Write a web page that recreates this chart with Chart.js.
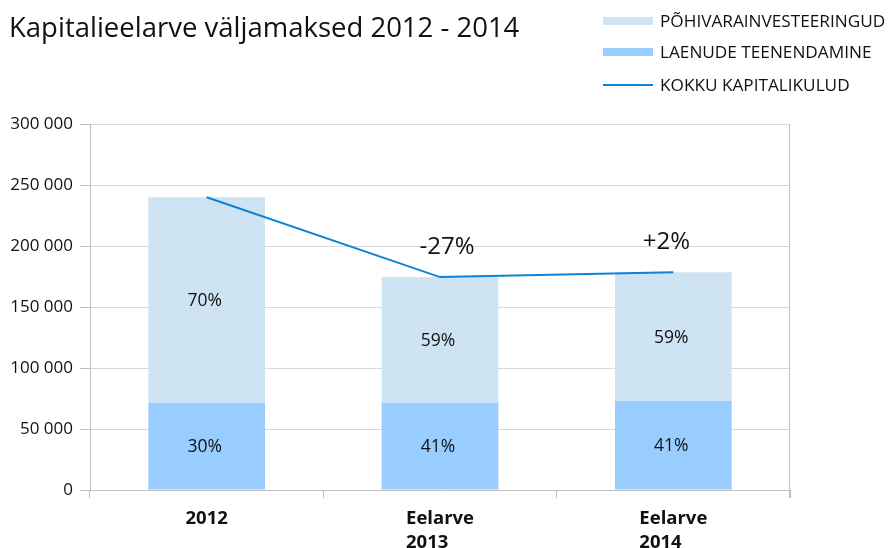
<!DOCTYPE html>
<html>
<head>
<meta charset="utf-8">
<script src="https://cdn.jsdelivr.net/npm/chart.js@4/dist/chart.umd.min.js"></script>
<style>
  html, body { margin: 0; padding: 0; background: #fff; }
  #wrap { width: 891px; height: 548px; position: relative; }
</style>
</head>
<body>
<div id="wrap"><canvas id="chart"></canvas></div>
<script>
// Data
const categories = [["2012"], ["Eelarve", "2013"], ["Eelarve", "2014"]];
const laenudeTeenendamine = [71500, 71500, 73000];
const pohivaraInvesteeringud = [168500, 103000, 105500];
const kokkuKapitalikulud = [240000, 174500, 178500];
const laenudeShare = ["30%", "41%", "41%"];
const pohivaraShare = ["70%", "59%", "59%"];
const changeLabels = [null, "-27%", "+2%"];

const FONT = "'Open Sans', 'Noto Sans', sans-serif";
const AXIS_GRAY = "#bfbfbf";
const GRID_GRAY = "#d9d9d9";

// Custom drawing: title, legend, x labels, bar percentages, change labels
const decorations = {
  id: "decorations",
  afterDraw(chart) {
    const ctx = chart.ctx;
    const area = chart.chartArea;
    const xScale = chart.scales.x;
    ctx.save();

    // right border of the plot
    ctx.strokeStyle = AXIS_GRAY;
    ctx.lineWidth = 1;
    ctx.beginPath();
    ctx.moveTo(Math.round(area.right) - 0.5, area.top);
    ctx.lineTo(Math.round(area.right) - 0.5, area.bottom + 8);
    ctx.stroke();

    // title
    ctx.fillStyle = "#111";
    ctx.font = "27.5px " + FONT;
    ctx.textAlign = "left";
    ctx.textBaseline = "middle";
    ctx.fillText("Kapitalieelarve väljamaksed 2012 - 2014", 9, 29);

    // legend
    const legendRows = [
      { ds: 1, y: 21, type: "box" },
      { ds: 0, y: 52, type: "box" },
      { ds: 2, y: 85, type: "line" },
    ];
    ctx.font = "17.2px " + FONT;
    legendRows.forEach((row) => {
      const ds = chart.data.datasets[row.ds];
      if (row.type === "box") {
        ctx.fillStyle = ds.backgroundColor;
        ctx.fillRect(603, row.y - 4, 50, 8);
      } else {
        ctx.strokeStyle = ds.borderColor;
        ctx.lineWidth = 2;
        ctx.beginPath();
        ctx.moveTo(603, row.y);
        ctx.lineTo(653, row.y);
        ctx.stroke();
      }
      ctx.fillStyle = "#111";
      ctx.fillText(ds.label, 660, row.y + 1);
    });

    // x axis labels (left aligned block, centered under category)
    ctx.font = "bold 18.5px " + FONT;
    ctx.textBaseline = "middle";
    categories.forEach((lines, i) => {
      const cx = xScale.getPixelForValue(i);
      const w = Math.max(...lines.map((l) => ctx.measureText(l).width));
      lines.forEach((l, k) => {
        ctx.fillText(l, cx - w / 2, 519 + k * 24);
      });
    });

    // percentages inside bar segments
    ctx.font = "17.5px " + FONT;
    ctx.textAlign = "center";
    [[0, laenudeShare], [1, pohivaraShare]].forEach(([dsIndex, texts]) => {
      chart.getDatasetMeta(dsIndex).data.forEach((bar, i) => {
        ctx.fillText(texts[i], bar.x - 2, (bar.y + bar.base) / 2 + 1);
      });
    });

    // change labels above the total line
    ctx.font = "24px " + FONT;
    chart.getDatasetMeta(2).data.forEach((pt, i) => {
      if (changeLabels[i]) {
        const dx = i === 1 ? 7 : -7;
        ctx.fillText(changeLabels[i], pt.x + dx, pt.y - 30);
      }
    });

    ctx.restore();
  },
};

new Chart(document.getElementById("chart"), {
  data: {
    labels: categories,
    datasets: [
      {
        type: "bar",
        label: "LAENUDE TEENENDAMINE",
        data: laenudeTeenendamine,
        backgroundColor: "#99ccff",
        stack: "bars",
        order: 2,
      },
      {
        type: "bar",
        label: "PÕHIVARAINVESTEERINGUD",
        data: pohivaraInvesteeringud,
        backgroundColor: "#cfe4f3",
        stack: "bars",
        order: 2,
      },
      {
        type: "line",
        label: "KOKKU KAPITALIKULUD",
        data: kokkuKapitalikulud,
        borderColor: "#0a84d6",
        borderWidth: 2,
        pointRadius: 0,
        tension: 0,
        stack: "line",
        order: 1,
      },
    ],
  },
  options: {
    responsive: true,
    maintainAspectRatio: false,
    animation: false,
    layout: { padding: { top: 124, right: 101, left: 0, bottom: 0 } },
    datasets: { bar: { categoryPercentage: 1, barPercentage: 0.5 } },
    plugins: {
      legend: { display: false },
      title: { display: false },
      tooltip: { enabled: false },
    },
    scales: {
      x: {
        stacked: true,
        offset: true,
        grid: {
          offset: true,
          drawOnChartArea: false,
          color: AXIS_GRAY,
          tickLength: 8,
        },
        border: { color: AXIS_GRAY },
        ticks: { display: false },
        afterFit(scale) { scale.height = 58; },
      },
      y: {
        stacked: true,
        min: 0,
        max: 300000,
        ticks: {
          stepSize: 50000,
          padding: 7,
          color: "#111",
          font: { family: FONT, size: 17 },
          callback: (v) => String(v).replace(/\B(?=(\d{3})+(?!\d))/g, " "),
        },
        grid: { color: GRID_GRAY, tickColor: AXIS_GRAY, tickLength: 10 },
        border: { color: AXIS_GRAY },
        afterFit(scale) { scale.width = 90; },
      },
    },
  },
  plugins: [decorations],
});
</script>
</body>
</html>
